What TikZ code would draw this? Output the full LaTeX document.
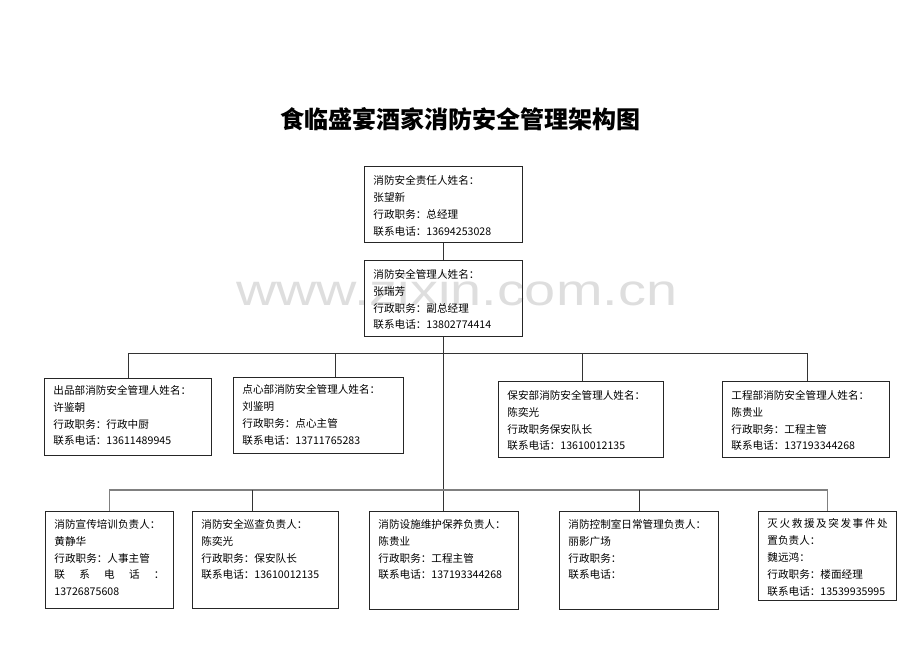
\documentclass[tikz,border=0pt]{standalone}
\usepackage{fontspec}
\setmainfont{Noto Sans CJK SC}
\newfontfamily\markfont{Liberation Sans}
\usetikzlibrary{positioning, calc}

\tikzset{
  card/.style={draw=black!85, line width=0.9pt, anchor=north west,
    inner xsep=9pt, inner ysep=0pt, font=\fontsize{10.6pt}{16.8pt}\selectfont},
  wire/.style={draw=black!80, line width=0.8pt},
  graywire/.style={draw=black!50, line width=1.3pt},
}
% text block of a card: [first baseline]{width}{height}{lines}
\newcommand{\cardtext}[4][17pt]{\parbox[t][#3][t]{#2}{\rule{0pt}{#1}#4}}

\begin{document}
\begin{tikzpicture}[x=1pt, y=-1pt]
\useasboundingbox (0,0) rectangle (920,651);

% watermark
\node[font=\markfont\fontsize{44pt}{50pt}\selectfont, text=black!13, anchor=base west,
  inner sep=0pt, transform shape, xscale=1.27] (mark) at (236,305) {www.zixin.com.cn};

\node[font=\fontsize{24pt}{28pt}\selectfont\bfseries] (title) at (460,119) {食临盛宴酒家消防安全管理架构图};

% top
\node[card] (chief) at (364,166) {\cardtext[18.5pt]{140pt}{76pt}{消防安全责任人姓名：\\张望新\\行政职务：总经理\\联系电话：13694253028}};
\node[card] (deputy) at (364,260) {\cardtext[18pt]{140pt}{76pt}{消防安全管理人姓名：\\张瑞芳\\行政职务：副总经理\\联系电话：13802774414}};

% departments
\node[card] (d1) at (44,378) {\cardtext[16pt]{149pt}{77pt}{出品部消防安全管理人姓名：\\许鉴朝\\行政职务：行政中厨\\联系电话：13611489945}};
\node[card] (d2) at (233,377) {\cardtext[16.5pt]{152pt}{76pt}{点心部消防安全管理人姓名：\\刘鉴明\\行政职务：点心主管\\联系电话：13711765283}};
\node[card] (d3) at (498,381) {\cardtext[18pt]{147pt}{76pt}{保安部消防安全管理人姓名：\\陈奕光\\行政职务保安队长\\联系电话：13610012135}};
\node[card] (d4) at (722,381) {\cardtext[18pt]{149pt}{76pt}{工程部消防安全管理人姓名：\\陈贵业\\行政职务：工程主管\\联系电话：137193344268}};

% duties
\node[card] (b1) at (45,511) {\cardtext[17pt]{110pt}{97pt}{消防宣传培训负责人：\\黄静华\\行政职务：人事主管\\\makebox[\linewidth][s]{联 系 电 话 ：}\\13726875608}};
\node[card] (b2) at (192,511) {\cardtext[17pt]{128pt}{97pt}{消防安全巡查负责人：\\陈奕光\\行政职务：保安队长\\联系电话：13610012135}};
\node[card] (b3) at (369,511) {\cardtext[17pt]{131pt}{98pt}{消防设施维护保养负责人：\\陈贵业\\行政职务：工程主管\\联系电话：137193344268}};
\node[card] (b4) at (559,511) {\cardtext[17pt]{141pt}{98pt}{消防控制室日常管理负责人：\\丽影广场\\行政职务：\\联系电话：}};
\node[card] (b5) at (758,511) {\cardtext[16.5pt]{120pt}{89pt}{\makebox[\linewidth][s]{灭 火 救 援 及 突 发 事 件 处}\\置负责人：\\魏远鸿：\\行政职务：楼面经理\\联系电话：13539935995}};

\coordinate (upbus) at (0,353);
\coordinate (lowbus) at (0,490);
\coordinate (d2top) at ($(d2.north west)!0.60!(d2.north east)$);
\coordinate (d3top) at ($(d3.north west)!0.51!(d3.north east)$);
\coordinate (d4top) at ($(d4.north west)!0.51!(d4.north east)$);
\coordinate (b2top) at ($(b2.north west)!0.41!(b2.north east)$);

\draw[wire] (chief.south) -- (deputy.north);
\draw[wire] (deputy.south) -- (deputy.south |- b3.north);

\draw[wire] (d1.north) |- (d4top |- upbus) -- (d4top);
\draw[wire] (d2top) -- (d2top |- upbus);
\draw[wire] (d3top) -- (d3top |- upbus);

\draw[graywire] (b1.north) |- (b5.north |- lowbus) -- (b5.north);
\draw[wire] (b2top) -- (b2top |- lowbus);
\draw[wire] (b4.north) -- (b4.north |- lowbus);
\end{tikzpicture}
\end{document}
